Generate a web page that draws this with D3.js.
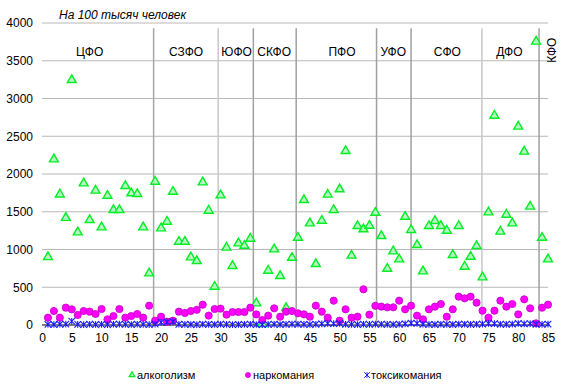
<!DOCTYPE html>
<html><head><meta charset="utf-8">
<script src="https://cdn.jsdelivr.net/npm/d3@7"></script>
<style>body{margin:0;background:#fff}svg{display:block;font-family:Arial,"Liberation Sans",sans-serif}</style>
</head><body>
<svg id="c" width="561" height="388"></svg>
<script>
const alcohol = [900,2195,1730,1420,3245,1228,1877,1391,1780,1294,1713,1524,1524,1842,1745,1736,1294,685,1899,1281,1369,1766,1104,1104,897,848,1890,1515,508,1718,1025,782,1082,1051,1144,287,15,720,1003,649,225,892,1157,1656,1347,808,1382,1727,1524,1798,2306,919,1312,1268,1316,1488,1179,746,976,870,1435,1259,1060,711,1312,1378,1312,1250,928,1312,773,905,1047,632,1493,2773,1237,1462,1347,2628,2297,1568,3754,1157,870];
const narco = [97,185,97,230,208,133,185,177,146,212,75,119,212,97,119,146,97,256,57,110,44,57,177,160,185,201,269,124,212,216,137,172,172,172,230,141,66,124,221,110,177,185,155,141,110,256,177,97,322,57,208,97,110,473,137,254,243,234,234,322,208,256,124,75,208,243,278,110,208,375,353,375,296,190,97,190,322,243,278,141,340,221,22,230,269];
const tox = [8,6,10,12,50,8,5,10,6,8,5,10,12,8,6,10,8,5,12,35,40,45,10,8,6,5,10,8,6,10,8,5,6,8,10,6,5,8,10,6,8,12,10,8,6,10,15,20,18,22,10,8,6,10,8,12,10,8,6,10,15,25,22,10,8,6,10,8,6,12,10,8,10,12,20,18,10,8,12,20,15,18,10,8,12];
const yTicks = [0,500,1000,1500,2000,2500,3000,3500,4000];
const xTicks = [0,5,10,15,20,25,30,35,40,45,50,55,60,65,70,75,80,85];
const districts = ["ЦФО","СЗФО","ЮФО","СКФО","ПФО","УФО","СФО","ДФО","КФО"];
const districtLabelX = [8.0,24.2,32.7,39.0,50.4,59.0,68.1,78.5,85.6];
const separators = [18.75,29.6,35.5,42.7,56.2,62.0,73.9,83.5];
const seriesNames = ["алкоголизм","наркомания","токсикомания"];
const title = "На 100 тысяч человек";

const svg = d3.select("#c");
const x = d3.scaleLinear().domain([0,85]).range([42,548]);
const y = d3.scaleLinear().domain([0,4000]).range([325,23]);

// gridlines
svg.append("g").selectAll("line").data(yTicks.filter(d=>d>0)).join("line")
  .attr("x1",x(0)).attr("x2",x(85)).attr("y1",d=>y(d)).attr("y2",d=>y(d))
  .attr("stroke","#b8b8b8").attr("stroke-width",1);

// y axis labels
const ya = svg.append("g").attr("transform",`translate(${x(0)-9},0)`)
  .call(d3.axisLeft(y).tickValues(yTicks).tickSize(0).tickPadding(0).tickFormat(d3.format("d")));
ya.select(".domain").remove();
ya.selectAll("text").attr("font-size",12).attr("fill","#000").attr("font-family","Arial,'Liberation Sans',sans-serif");

// separators
const sepColors = ["#a8a8a8","#c8c8c8","#a0a0a0","#a0a0a0","#a0a0a0","#a0a0a0","#c8c8c8","#a0a0a0"];
svg.append("g").selectAll("line").data(separators).join("line")
  .attr("x1",d=>x(d)).attr("x2",d=>x(d)).attr("y1",y(3930)).attr("y2",y(0))
  .attr("stroke",(d,i)=>sepColors[i]).attr("stroke-width",1.5);

// x axis
const xa = svg.append("g").attr("transform",`translate(0,${y(0)})`)
  .call(d3.axisBottom(x).tickValues(xTicks).tickSize(0).tickPadding(8).tickFormat(d3.format("d")));
xa.select(".domain").attr("stroke","#000").attr("stroke-width",1.2).attr("d",`M${x(0)},0H${x(85)+2}`);
xa.selectAll("text").attr("font-size",12).attr("fill","#000").attr("font-family","Arial,'Liberation Sans',sans-serif");

// district labels
svg.append("g").selectAll("text").data(districts).join("text")
  .attr("transform",(d,i)=> i===8 ? `translate(${x(districtLabelX[i])},${y(3640)}) rotate(-90)` : `translate(${x(districtLabelX[i])},${y(3610)})`)
  .attr("text-anchor","middle").attr("dominant-baseline","central")
  .attr("font-size",12).attr("fill","#000").text(d=>d);

// title
svg.append("text").attr("x",x(0)+17).attr("y",19).attr("font-size",12).attr("font-style","italic").attr("fill","#000").text(title);

const idx = d3.range(1,86);
const tri = d3.symbol().type(d3.symbolTriangle).size(34);
const starPath = r => `M0,${-r}V${r}M${-r},${-r}L${r},${r}M${-r},${r}L${r},${-r}`;

// alcohol triangles
svg.append("g").selectAll("path").data(idx).join("path")
  .attr("d",tri).attr("transform",i=>`translate(${x(i)},${y(alcohol[i-1])})`)
  .attr("fill","#b8f5c4").attr("stroke","#00ee22").attr("stroke-width",1.4);

// narco circles
svg.append("g").selectAll("circle").data(idx).join("circle")
  .attr("cx",i=>x(i)).attr("cy",i=>y(narco[i-1])).attr("r",3.6)
  .attr("fill","#ff00ff").attr("stroke","#c000c0").attr("stroke-width",0.8);

// tox stars
svg.append("g").selectAll("path").data(idx).join("path")
  .attr("d",starPath(3.3)).attr("transform",i=>`translate(${x(i)},${y(tox[i-1])})`)
  .attr("fill","none").attr("stroke","#1a1aff").attr("stroke-width",1.1);

// legend
const lg = svg.append("g");
const lx = [132,248,367], ly = 375;
lg.append("path").attr("d",d3.symbol().type(d3.symbolTriangle).size(14)).attr("transform",`translate(${lx[0]},${ly})`)
  .attr("fill","#b8f5c4").attr("stroke","#00ee22").attr("stroke-width",1.2);
lg.append("circle").attr("cx",lx[1]).attr("cy",ly).attr("r",2.6).attr("fill","#ff00ff").attr("stroke","#c000c0").attr("stroke-width",0.6);
lg.append("path").attr("d",starPath(2.8)).attr("transform",`translate(${lx[2]},${ly})`).attr("fill","none").attr("stroke","#1a1aff").attr("stroke-width",1);
lg.selectAll("text").data(seriesNames).join("text")
  .attr("x",(d,i)=>lx[i]+(i===2?4:5)).attr("y",ly).attr("dominant-baseline","central")
  .attr("font-size",11).attr("fill","#000").text(d=>d);
</script>
</body></html>
